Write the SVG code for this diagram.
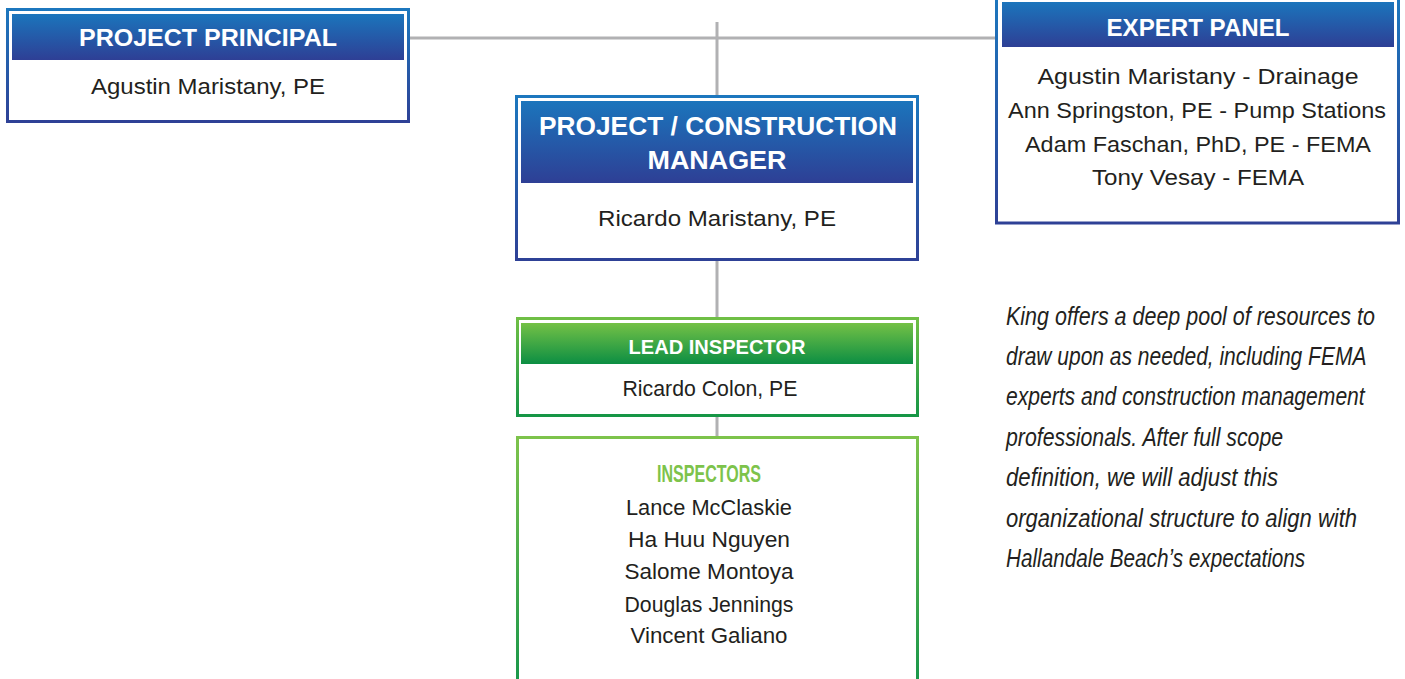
<svg xmlns="http://www.w3.org/2000/svg" width="1405" height="679" viewBox="0 0 1405 679">
<defs>
<linearGradient id="blueHead" x1="0" y1="0" x2="0" y2="1"><stop offset="0" stop-color="#1b75bc"/><stop offset="1" stop-color="#2e3f95"/></linearGradient>
<linearGradient id="blueBorder" x1="0" y1="0" x2="0" y2="1"><stop offset="0" stop-color="#1c77be"/><stop offset="1" stop-color="#2e4196"/></linearGradient>
<linearGradient id="greenHead" x1="0" y1="0" x2="0" y2="1"><stop offset="0" stop-color="#74c146"/><stop offset="1" stop-color="#0c8e43"/></linearGradient>
<linearGradient id="greenBorder" x1="0" y1="0" x2="0" y2="1"><stop offset="0" stop-color="#6fbf45"/><stop offset="1" stop-color="#169646"/></linearGradient>
<linearGradient id="greenBorder2" x1="0" y1="0" x2="0" y2="1"><stop offset="0" stop-color="#7dc34b"/><stop offset="1" stop-color="#12944a"/></linearGradient>
</defs>
<style>
.bbox{fill:#ffffff;stroke:url(#blueBorder);stroke-width:3}
.gbox{fill:#ffffff;stroke:url(#greenBorder);stroke-width:3}
.gbox2{fill:#ffffff;stroke:url(#greenBorder2);stroke-width:3}
.head{font-family:"Liberation Sans",Arial,sans-serif;font-weight:bold;fill:#ffffff;text-anchor:middle}
.name{font-family:"Liberation Sans",Arial,sans-serif;fill:#231f20;text-anchor:middle;font-size:22px}
.note{font-family:"Liberation Sans",Arial,sans-serif;font-style:italic;fill:#231f20;font-size:25px}
.conn{stroke:#b1b1b3;stroke-width:3;fill:none}
</style>
<rect width="1405" height="679" fill="#ffffff"/>
<g id="connectors">
<line class="conn" x1="410" y1="38" x2="996" y2="38"/>
<line class="conn" x1="717" y1="22" x2="717" y2="95"/>
<line class="conn" x1="717" y1="261" x2="717" y2="317"/>
<line class="conn" x1="717" y1="417" x2="717" y2="437"/>
</g>
<g id="project-principal">
<rect class="bbox" x="7.5" y="9.5" width="401" height="112"/>
<rect x="12" y="14" width="392" height="46" fill="url(#blueHead)"/>
<text class="head" x="208" y="46" font-size="23" textLength="258" lengthAdjust="spacingAndGlyphs">PROJECT PRINCIPAL</text>
<text class="name" x="208" y="94" textLength="234" lengthAdjust="spacingAndGlyphs">Agustin Maristany, PE</text>
</g>
<g id="expert-panel">
<rect class="bbox" x="996.5" y="-4" width="402" height="227"/>
<rect x="1002" y="2" width="392" height="45" fill="url(#blueHead)"/>
<text class="head" x="1198" y="36" font-size="23" textLength="183" lengthAdjust="spacingAndGlyphs">EXPERT PANEL</text>
<text class="name" x="1198" y="84" textLength="321" lengthAdjust="spacingAndGlyphs">Agustin Maristany - Drainage</text>
<text class="name" x="1197" y="118" textLength="378" lengthAdjust="spacingAndGlyphs">Ann Springston, PE - Pump Stations</text>
<text class="name" x="1198" y="152" textLength="346" lengthAdjust="spacingAndGlyphs">Adam Faschan, PhD, PE - FEMA</text>
<text class="name" x="1198" y="185" textLength="212" lengthAdjust="spacingAndGlyphs">Tony Vesay - FEMA</text>
</g>
<g id="project-construction-manager">
<rect class="bbox" x="516.5" y="96.5" width="401" height="163"/>
<rect x="521" y="101" width="392" height="82" fill="url(#blueHead)"/>
<text class="head" x="718" y="135" font-size="25" textLength="358" lengthAdjust="spacingAndGlyphs">PROJECT / CONSTRUCTION</text>
<text class="head" x="717" y="169" font-size="25" textLength="139" lengthAdjust="spacingAndGlyphs">MANAGER</text>
<text class="name" x="717" y="226" textLength="238" lengthAdjust="spacingAndGlyphs">Ricardo Maristany, PE</text>
</g>
<g id="lead-inspector">
<rect class="gbox" x="517.5" y="318.5" width="400" height="97"/>
<rect x="521" y="323" width="392" height="41" fill="url(#greenHead)"/>
<text class="head" x="717" y="354" font-size="20" textLength="177" lengthAdjust="spacingAndGlyphs">LEAD INSPECTOR</text>
<text class="name" x="710" y="396" textLength="175" lengthAdjust="spacingAndGlyphs">Ricardo Colon, PE</text>
</g>
<g id="inspectors">
<rect class="gbox2" x="517.5" y="437.5" width="400" height="260"/>
<text x="709" y="482" font-family="Liberation Sans Narrow,Liberation Sans,Arial,sans-serif" font-weight="bold" font-size="23" fill="#7dc34b" text-anchor="middle" textLength="104" lengthAdjust="spacingAndGlyphs">INSPECTORS</text>
<text class="name" x="709" y="515" textLength="166" lengthAdjust="spacingAndGlyphs">Lance McClaskie</text>
<text class="name" x="709" y="547" textLength="162" lengthAdjust="spacingAndGlyphs">Ha Huu Nguyen</text>
<text class="name" x="709" y="579" textLength="169" lengthAdjust="spacingAndGlyphs">Salome Montoya</text>
<text class="name" x="709" y="612" textLength="169" lengthAdjust="spacingAndGlyphs">Douglas Jennings</text>
<text class="name" x="709" y="643" textLength="157" lengthAdjust="spacingAndGlyphs">Vincent Galiano</text>
</g>
<g id="note">
<text class="note" transform="translate(1006,325) scale(0.85,1)" x="0" y="0" textLength="434" lengthAdjust="spacingAndGlyphs">King offers a deep pool of resources to</text>
<text class="note" transform="translate(1006,365) scale(0.85,1)" x="0" y="0" textLength="424" lengthAdjust="spacingAndGlyphs">draw upon as needed, including FEMA</text>
<text class="note" transform="translate(1006,405) scale(0.85,1)" x="0" y="0" textLength="422" lengthAdjust="spacingAndGlyphs">experts and construction management</text>
<text class="note" transform="translate(1006,446) scale(0.85,1)" x="0" y="0" textLength="326" lengthAdjust="spacingAndGlyphs">professionals. After full scope</text>
<text class="note" transform="translate(1006,486) scale(0.85,1)" x="0" y="0" textLength="320" lengthAdjust="spacingAndGlyphs">definition, we will adjust this</text>
<text class="note" transform="translate(1006,527) scale(0.85,1)" x="0" y="0" textLength="413" lengthAdjust="spacingAndGlyphs">organizational structure to align with</text>
<text class="note" transform="translate(1006,567) scale(0.85,1)" x="0" y="0" textLength="352" lengthAdjust="spacingAndGlyphs">Hallandale Beach’s expectations</text>
</g>
</svg>
